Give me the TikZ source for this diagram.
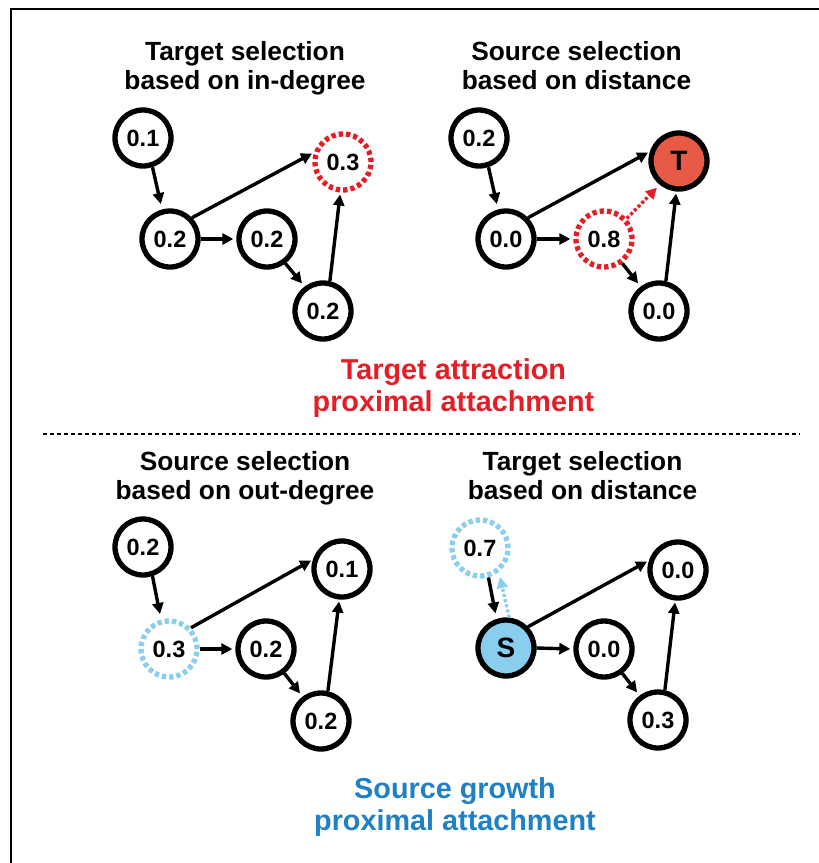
\documentclass[tikz,border=0pt]{standalone}
\usepackage{fontspec}
\setmainfont{Liberation Sans}
\usetikzlibrary{arrows.meta}
\definecolor{redc}{HTML}{E31E26}
\definecolor{tfill}{HTML}{E65A46}
\definecolor{bluec}{HTML}{1F80C4}
\definecolor{lblue}{HTML}{89CEEE}
\begin{document}
\begin{tikzpicture}[x=1pt,y=-1pt,
  nd/.style={circle, draw=black, line width=5.3pt, minimum size=56pt, inner sep=0pt, fill=white,
    font=\fontsize{23.5}{23.5}\selectfont\bfseries},
  rdash/.style={nd, draw=redc, dash pattern=on 4.3pt off 3.03pt},
  bdash/.style={nd, draw=lblue, dash pattern=on 4.3pt off 3.03pt},
  bigl/.style={font=\fontsize{28}{28}\selectfont\bfseries},
  arr/.style={-{Triangle[length=11pt,width=11pt]}, line width=3.4pt, shorten >=3pt},
  rdot/.style={-{Triangle[length=11pt,width=11pt]}, line width=3.4pt, draw=redc, dash pattern=on 3pt off 2.3pt, shorten >=4pt},
  bdot/.style={-{Triangle[length=11pt,width=11pt]}, line width=3.4pt, draw=lblue, dash pattern=on 3pt off 2.3pt, shorten >=5pt},
  ttl/.style={anchor=north, inner sep=0pt, align=center, font=\fontsize{26.3}{28.5}\selectfont\bfseries},
  hdg/.style={anchor=north, inner sep=0pt, align=center, font=\fontsize{28.8}{32.5}\selectfont\bfseries},
]
\useasboundingbox (0,0) rectangle (819,863);
% frame
\draw[line width=1.3pt] (11,863) -- (11,9) -- (819,9);
% separator
\draw[line width=1.5pt, dash pattern=on 4pt off 3pt] (43,434) -- (800,434);

% ---------- panel 1 ----------
\node[ttl] (t1) at (245,41.5) {Target selection\\based on in-degree};
\node[nd] (p1p) at (143,138) {0.1};
\node[nd] (p1a) at (170,239) {0.2};
\node[nd] (p1b) at (267,239) {0.2};
\node[nd] (p1c) at (323,311) {0.2};
\node[rdash] (p1r) at (343,162) {0.3};
\draw[arr, shorten >=5.5pt] (p1p.-72) -- (p1a.105);
\draw[arr, shorten >=2pt] (p1a.44) -- (p1r.162);
\draw[arr] (p1a.0) -- (p1b.180);
\draw[arr, shorten >=4pt] (p1b.-53) -- (p1c.127);
\draw[arr, shorten >=2pt] (p1c.77) -- (p1r.-95);

% ---------- panel 2 ----------
\begin{scope}[shift={(336,0)}]
\node[ttl] (t2) at (240.5,41.5) {Source selection\\based on distance};
\node[nd] (p2p) at (143,138) {0.2};
\node[nd] (p2a) at (170,239) {0.0};
\node[rdash] (p2b) at (268,239) {0.8};
\node[nd] (p2c) at (323,311) {0.0};
\node[nd, fill=tfill, bigl] (p2r) at (343,161) {T};
\draw[arr, shorten >=5.5pt] (p2p.-72) -- (p2a.105);
\draw[arr, shorten >=2pt] (p2a.44) -- (p2r.162);
\draw[arr] (p2a.0) -- (p2b.180);
\draw[arr, shorten >=4pt] (p2b.-53) -- (p2c.127);
\draw[arr, shorten >=2pt] (p2c.77) -- (p2r.-95);
\draw[rdot] (p2b.42) -- (p2r.-129);
\end{scope}

\node[hdg, text=redc] (h1) at (453.5,358) {Target attraction\\proximal attachment};

% ---------- panel 3 ----------
\begin{scope}[shift={(0,410)}]
\node[ttl] (t3) at (245,41.5) {Source selection\\based on out-degree};
\node[nd] (p3p) at (143,137) {0.2};
\node[bdash] (p3a) at (169,239) {0.3};
\node[nd] (p3b) at (266,239) {0.2};
\node[nd] (p3c) at (321,311) {0.2};
\node[nd] (p3r) at (342,159) {0.1};
\draw[arr, shorten >=5.5pt] (p3p.-72) -- (p3a.105);
\draw[arr, shorten >=2pt] (p3a.44) -- (p3r.162);
\draw[arr] (p3a.0) -- (p3b.180);
\draw[arr, shorten >=4pt] (p3b.-53) -- (p3c.127);
\draw[arr, shorten >=2pt] (p3c.77) -- (p3r.-95);
\end{scope}

% ---------- panel 4 ----------
\begin{scope}[shift={(336,410)}]
\node[ttl] (t4) at (246.5,41.5) {Target selection\\based on distance};
\node[bdash] (p4p) at (144,138) {0.7};
\node[nd, fill=lblue, bigl] (p4a) at (170,238) {S};
\node[nd] (p4b) at (268,239) {0.0};
\node[nd] (p4c) at (322,310) {0.3};
\node[nd] (p4r) at (342,160) {0.0};
\draw[arr, shorten >=5.5pt] (p4p.-74) -- (p4a.108);
\draw[arr, shorten >=2pt] (p4a.44) -- (p4r.162);
\draw[arr] (p4a.0) -- (p4b.180);
\draw[arr, shorten >=4pt] (p4b.-53) -- (p4c.127);
\draw[arr, shorten >=2pt] (p4c.77) -- (p4r.-95);
\draw[bdot] (p4a.84) -- (p4p.-52);
\end{scope}

\node[hdg, text=bluec] (h2) at (455,777) {Source growth\\proximal attachment};
\end{tikzpicture}
\end{document}
